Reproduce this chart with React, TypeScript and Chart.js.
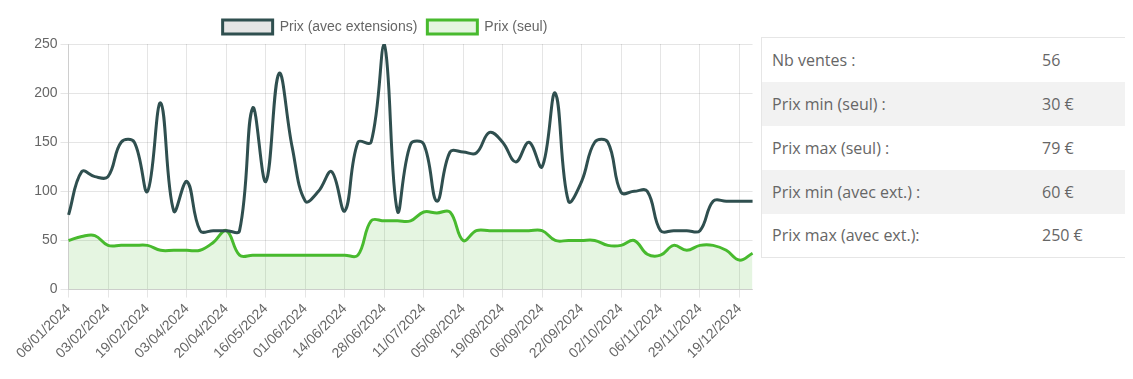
import React, { useEffect, useRef } from "react";
import { Chart, registerables } from "chart.js";

Chart.register(...registerables);

const dates: string[] = [
  "06/01/2024", "15/01/2024", "24/01/2024", "03/02/2024", "09/02/2024", "14/02/2024",
  "19/02/2024", "02/03/2024", "15/03/2024", "03/04/2024", "08/04/2024", "14/04/2024",
  "20/04/2024", "28/04/2024", "07/05/2024", "16/05/2024", "21/05/2024", "27/05/2024",
  "01/06/2024", "05/06/2024", "10/06/2024", "14/06/2024", "19/06/2024", "24/06/2024",
  "28/06/2024", "02/07/2024", "06/07/2024", "11/07/2024", "20/07/2024", "28/07/2024",
  "05/08/2024", "09/08/2024", "14/08/2024", "19/08/2024", "25/08/2024", "31/08/2024",
  "06/09/2024", "11/09/2024", "17/09/2024", "22/09/2024", "25/09/2024", "28/09/2024",
  "02/10/2024", "15/10/2024", "26/10/2024", "06/11/2024", "14/11/2024", "22/11/2024",
  "29/11/2024", "05/12/2024", "12/12/2024", "19/12/2024", "27/12/2024",
];

const prixAvecExtensions: number[] = [
  76, 120, 115, 115, 150, 150, 100, 190, 80, 110, 60, 60, 60,
  60, 185, 110, 220, 145, 90, 100, 120, 80, 150, 150, 250, 80,
  148, 148, 90, 140, 140, 139, 160, 150, 130, 150, 125, 200, 90,
  110, 150, 150, 99, 100, 100, 60, 60, 60, 60, 90, 90, 90, 90,
];

const prixSeul: number[] = [
  50, 54, 55, 45, 45, 45, 45, 40, 40, 40, 40, 48, 60,
  35, 35, 35, 35, 35, 35, 35, 35, 35, 35, 70, 70, 70,
  70, 79, 78, 79, 50, 60, 60, 60, 60, 60, 60, 50, 50,
  50, 50, 45, 45, 50, 36, 35, 45, 40, 45, 45, 40, 30, 37,
];

const tickEvery = 3;

const statLabels: string[] = [
  "Nb ventes :",
  "Prix min (seul) :",
  "Prix max (seul) :",
  "Prix min (avec ext.) :",
  "Prix max (avec ext.):",
];
const statValues: string[] = ["56", "30 €", "79 €", "60 €", "250 €"];

function PriceChart() {
  const ref = useRef<HTMLCanvasElement | null>(null);
  useEffect(() => {
    if (!ref.current) return;
    Chart.defaults.font.family = "'Liberation Sans', Arial, Helvetica, sans-serif";
    Chart.defaults.font.size = 14;
    Chart.defaults.color = "#666";
    const chart = new Chart(ref.current, {
      type: "line",
      data: {
        labels: dates,
        datasets: [
          {
            label: "Prix (avec extensions)",
            data: prixAvecExtensions,
            borderColor: "#2f4f4f",
            backgroundColor: "rgba(0,0,0,0.1)",
            borderWidth: 3,
            pointRadius: 0,
            tension: 0.4,
            fill: false,
          },
          {
            label: "Prix (seul)",
            data: prixSeul,
            borderColor: "rgb(72,186,46)",
            backgroundColor: "rgba(72,186,46,0.14)",
            borderWidth: 3,
            pointRadius: 0,
            tension: 0.4,
            fill: "origin",
          },
        ],
      },
      options: {
        animation: false,
        responsive: true,
        maintainAspectRatio: false,
        plugins: {
          legend: {
            position: "top",
            labels: { boxWidth: 50, font: { size: 14 } },
          },
          tooltip: { enabled: false },
        },
        scales: {
          x: {
            ticks: {
              autoSkip: false,
              minRotation: 45,
              maxRotation: 45,
              callback: function (_v: any, i: number) {
                return i % tickEvery === 0 ? dates[i] : null;
              },
            },
          },
          y: {
            min: 0,
            max: 250,
            ticks: { stepSize: 50 },
          },
        },
      },
    });
    return () => chart.destroy();
  }, []);
  return (
    <div style={{ position: "absolute", left: 8, top: 2, width: 738, height: 355 }}>
      <canvas ref={ref} />
    </div>
  );
}

export default function App() {
  return (
    <div style={{ position: "relative", width: 1117, height: 360 }}>
      <PriceChart />
      <table
        style={{
          position: "absolute",
          left: 753,
          top: 29,
          width: 370,
          borderCollapse: "collapse",
          border: "1px solid #e6e6e6",
          fontFamily: "'Open Sans', sans-serif",
          fontSize: 16,
          color: "#666",
        }}
      >
        <tbody>
          {statLabels.map((l, i) => (
            <tr key={l} style={{ background: i % 2 === 1 ? "#f2f2f2" : "#fff", height: 44 }}>
              <td style={{ padding: "0 10px", width: 250 }}>{l}</td>
              <td style={{ padding: "0 10px" }}>{statValues[i]}</td>
            </tr>
          ))}
        </tbody>
      </table>
    </div>
  );
}
